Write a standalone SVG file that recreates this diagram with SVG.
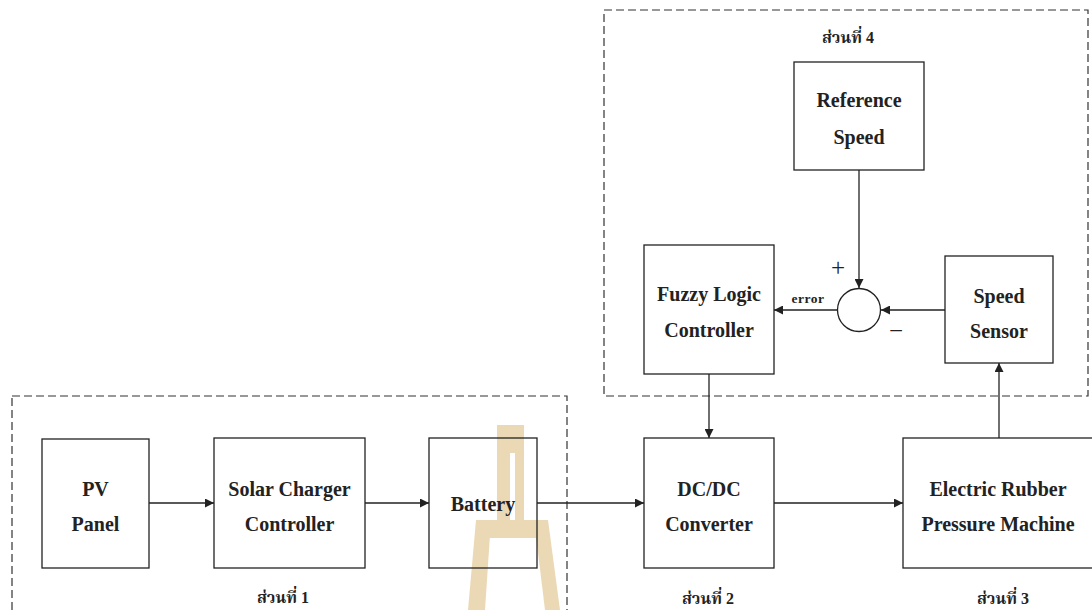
<svg xmlns="http://www.w3.org/2000/svg" width="1092" height="610" viewBox="0 0 1092 610">
<style>
.box{fill:#fff;stroke:#222;stroke-width:1.3}
.dash{fill:none;stroke:#333;stroke-width:1.2;stroke-dasharray:8 4}
.t{font-family:"Liberation Serif","Times New Roman",serif;font-weight:bold;font-size:20px;fill:#222;text-anchor:middle}
.th{font-family:"Liberation Serif","Noto Serif Thai","Noto Sans Thai","Noto Sans",sans-serif;font-weight:bold;font-size:16px;fill:#222;text-anchor:middle}
.sm{font-family:"Liberation Serif",serif;font-weight:bold;font-size:13.5px;fill:#222;text-anchor:middle;letter-spacing:0.5px}
.sign{font-family:"Liberation Serif",serif;font-size:25px;fill:#222;text-anchor:middle}
.c{fill:none;stroke:#222;stroke-width:1.3}
.wm{fill:#ebd9b5}
</style>
<defs>
<marker id="ah" viewBox="0 0 10 10" refX="10" refY="5" markerWidth="9" markerHeight="9" markerUnits="userSpaceOnUse" orient="auto">
<path d="M0,0 L10,5 L0,10 z" fill="#222"/>
</marker>
</defs>
<rect width="1092" height="610" fill="#fff"/>
<g id="watermark">
<rect class="wm" x="497" y="425" width="27" height="100"/>
<rect fill="#fff" x="510" y="453" width="5" height="67"/>
<rect class="wm" x="476" y="520" width="72" height="18"/>
<polygon class="wm" points="476,520 491,520 485,610 468,610"/>
<polygon class="wm" points="534,520 548,520 560,610 545,610"/>
</g>
<g id="groups">
<rect class="dash" x="12" y="396" width="555" height="230"/>
<rect class="dash" x="604" y="10" width="484" height="386"/>
</g>
<g id="connectors">
<line class="c" x1="149" y1="503" x2="214" y2="503" marker-end="url(#ah)"/>
<line class="c" x1="365" y1="503" x2="429" y2="503" marker-end="url(#ah)"/>
<line class="c" x1="537" y1="503" x2="644" y2="503" marker-end="url(#ah)"/>
<line class="c" x1="774" y1="503" x2="903" y2="503" marker-end="url(#ah)"/>
<line class="c" x1="709" y1="374" x2="709" y2="438" marker-end="url(#ah)"/>
<line class="c" x1="999" y1="438" x2="999" y2="363" marker-end="url(#ah)"/>
<line class="c" x1="859" y1="170" x2="859" y2="288" marker-end="url(#ah)"/>
<line class="c" x1="945" y1="310" x2="881" y2="310" marker-end="url(#ah)"/>
<line class="c" x1="837" y1="310" x2="774" y2="310" marker-end="url(#ah)"/>
<text class="sm" x="808" y="303">error</text>
<text class="sign" x="838" y="276">+</text>
<text class="sign" x="896" y="339">−</text>
</g>
<g id="pv">
<rect class="box" x="42" y="439" width="107" height="129"/>
<text class="t" x="95.5" y="496">PV</text>
<text class="t" x="95.5" y="531">Panel</text>
</g>
<g id="solar">
<rect class="box" x="214" y="438" width="151" height="130"/>
<text class="t" x="289.5" y="496">Solar Charger</text>
<text class="t" x="289.5" y="531">Controller</text>
</g>
<g id="battery">
<rect class="box" x="429" y="438" width="108" height="130" fill-opacity="0"/>
<text class="t" x="483" y="511">Battery</text>
</g>
<g id="dcdc">
<rect class="box" x="644" y="438" width="130" height="130"/>
<text class="t" x="709" y="496">DC/DC</text>
<text class="t" x="709" y="531">Converter</text>
</g>
<g id="machine">
<rect class="box" x="903" y="438" width="200" height="130"/>
<text class="t" x="998" y="496">Electric Rubber</text>
<text class="t" x="998" y="531">Pressure Machine</text>
</g>
<g id="fuzzy">
<rect class="box" x="644" y="245" width="130" height="129"/>
<text class="t" x="709" y="301">Fuzzy Logic</text>
<text class="t" x="709" y="337">Controller</text>
</g>
<g id="ref">
<rect class="box" x="794" y="62" width="130" height="108"/>
<text class="t" x="859" y="107">Reference</text>
<text class="t" x="859" y="144">Speed</text>
</g>
<g id="sensor">
<rect class="box" x="945" y="256" width="108" height="107"/>
<text class="t" x="999" y="303">Speed</text>
<text class="t" x="999" y="338">Sensor</text>
</g>
<g id="sum">
<circle class="box" cx="859" cy="310" r="21.5"/>
</g>
<g id="labels">
<text class="th" x="283" y="603">ส่วนที่ 1</text>
<text class="th" x="708" y="604">ส่วนที่ 2</text>
<text class="th" x="1003" y="604">ส่วนที่ 3</text>
<text class="th" x="848" y="43">ส่วนที่ 4</text>
</g>
</svg>
